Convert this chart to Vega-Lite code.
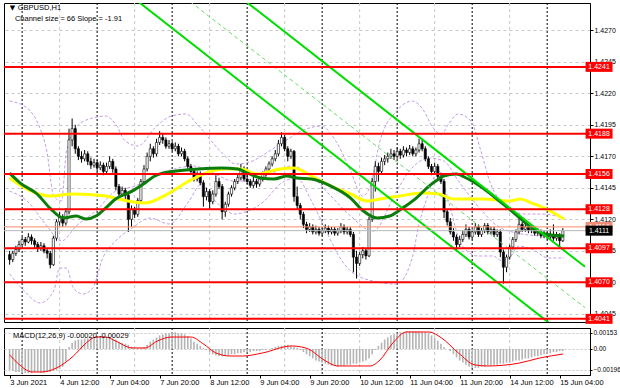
{
"$schema": "https://vega.github.io/schema/vega-lite/v6.json",
"background": "white",
"padding": {"left": 2, "top": 2, "right": 0, "bottom": 0},
"spacing": 2,
"config": {"font": "Liberation Sans", "view": {"stroke": "#000000", "strokeWidth": 1}, "axis": {"labelFont": "Liberation Sans", "labelFontSize": 7, "labelColor": "#000000", "domainColor": "#000000", "tickColor": "#000000", "labelOverlap": false, "labelFlush": false, "labelBound": false}},
"datasets": {
"bars": [
{"i":0,"o":1.4092,"h":1.4095,"l":1.4084,"c":1.4088,"m":-0.0020},
{"i":1,"o":1.4088,"h":1.4095,"l":1.4086,"c":1.4093,"m":-0.0021},
{"i":2,"o":1.4093,"h":1.4099,"l":1.4091,"c":1.4096,"m":-0.0022},
{"i":3,"o":1.4096,"h":1.4103,"l":1.4094,"c":1.4100,"m":-0.0022},
{"i":4,"o":1.4100,"h":1.4106,"l":1.4098,"c":1.4104,"m":-0.0023},
{"i":5,"o":1.4104,"h":1.4106,"l":1.4099,"c":1.4102,"m":-0.0023},
{"i":6,"o":1.4102,"h":1.4109,"l":1.4101,"c":1.4106,"m":-0.0023},
{"i":7,"o":1.4106,"h":1.4108,"l":1.4100,"c":1.4103,"m":-0.0023},
{"i":8,"o":1.4103,"h":1.4105,"l":1.4097,"c":1.4100,"m":-0.0022},
{"i":9,"o":1.4100,"h":1.4102,"l":1.4094,"c":1.4097,"m":-0.0022},
{"i":10,"o":1.4097,"h":1.4102,"l":1.4095,"c":1.4099,"m":-0.0023},
{"i":11,"o":1.4099,"h":1.4101,"l":1.4093,"c":1.4095,"m":-0.0023},
{"i":12,"o":1.4095,"h":1.4097,"l":1.4089,"c":1.4093,"m":-0.0022},
{"i":13,"o":1.4093,"h":1.4095,"l":1.4081,"c":1.4084,"m":-0.0022},
{"i":14,"o":1.4084,"h":1.4107,"l":1.4083,"c":1.4105,"m":-0.0021},
{"i":15,"o":1.4105,"h":1.4120,"l":1.4103,"c":1.4118,"m":-0.0020},
{"i":16,"o":1.4118,"h":1.4126,"l":1.4115,"c":1.4122,"m":-0.0019},
{"i":17,"o":1.4122,"h":1.4124,"l":1.4114,"c":1.4117,"m":-0.0017},
{"i":18,"o":1.4117,"h":1.4129,"l":1.4115,"c":1.4126,"m":-0.0012},
{"i":19,"o":1.4126,"h":1.4192,"l":1.4124,"c":1.4183,"m":0.0002},
{"i":20,"o":1.4183,"h":1.4200,"l":1.4178,"c":1.4192,"m":0.0006},
{"i":21,"o":1.4192,"h":1.4195,"l":1.4172,"c":1.4176,"m":0.0008},
{"i":22,"o":1.4176,"h":1.4178,"l":1.4167,"c":1.4170,"m":0.0009},
{"i":23,"o":1.4170,"h":1.4174,"l":1.4165,"c":1.4168,"m":0.0009},
{"i":24,"o":1.4168,"h":1.4175,"l":1.4166,"c":1.4172,"m":0.0010},
{"i":25,"o":1.4172,"h":1.4174,"l":1.4163,"c":1.4166,"m":0.0010},
{"i":26,"o":1.4166,"h":1.4169,"l":1.4160,"c":1.4163,"m":0.0011},
{"i":27,"o":1.4163,"h":1.4168,"l":1.4161,"c":1.4165,"m":0.0011},
{"i":28,"o":1.4165,"h":1.4167,"l":1.4158,"c":1.4161,"m":0.0012},
{"i":29,"o":1.4161,"h":1.4166,"l":1.4159,"c":1.4163,"m":0.0012},
{"i":30,"o":1.4163,"h":1.4165,"l":1.4155,"c":1.4158,"m":0.0012},
{"i":31,"o":1.4158,"h":1.4165,"l":1.4156,"c":1.4162,"m":0.0011},
{"i":32,"o":1.4162,"h":1.4170,"l":1.4160,"c":1.4166,"m":0.0011},
{"i":33,"o":1.4166,"h":1.4168,"l":1.4157,"c":1.4160,"m":0.0010},
{"i":34,"o":1.4160,"h":1.4162,"l":1.4143,"c":1.4146,"m":0.0009},
{"i":35,"o":1.4146,"h":1.4148,"l":1.4138,"c":1.4140,"m":0.0007},
{"i":36,"o":1.4140,"h":1.4146,"l":1.4138,"c":1.4143,"m":0.0006},
{"i":37,"o":1.4143,"h":1.4145,"l":1.4136,"c":1.4139,"m":0.0005},
{"i":38,"o":1.4139,"h":1.4141,"l":1.4110,"c":1.4120,"m":0.0004},
{"i":39,"o":1.4120,"h":1.4131,"l":1.4114,"c":1.4128,"m":0.0002},
{"i":40,"o":1.4128,"h":1.4130,"l":1.4121,"c":1.4124,"m":0.0001},
{"i":41,"o":1.4124,"h":1.4137,"l":1.4122,"c":1.4135,"m":0.0001},
{"i":42,"o":1.4135,"h":1.4152,"l":1.4133,"c":1.4150,"m":0.0001},
{"i":43,"o":1.4150,"h":1.4163,"l":1.4148,"c":1.4160,"m":0.0002},
{"i":44,"o":1.4160,"h":1.4173,"l":1.4158,"c":1.4170,"m":0.0004},
{"i":45,"o":1.4170,"h":1.4180,"l":1.4166,"c":1.4176,"m":0.0007},
{"i":46,"o":1.4176,"h":1.4178,"l":1.4169,"c":1.4172,"m":0.0009},
{"i":47,"o":1.4172,"h":1.4184,"l":1.4170,"c":1.4181,"m":0.0011},
{"i":48,"o":1.4181,"h":1.4190,"l":1.4179,"c":1.4185,"m":0.0013},
{"i":49,"o":1.4185,"h":1.4188,"l":1.4180,"c":1.4183,"m":0.0014},
{"i":50,"o":1.4183,"h":1.4185,"l":1.4176,"c":1.4178,"m":0.0015},
{"i":51,"o":1.4178,"h":1.4183,"l":1.4176,"c":1.4180,"m":0.0015},
{"i":52,"o":1.4180,"h":1.4182,"l":1.4174,"c":1.4176,"m":0.0016},
{"i":53,"o":1.4176,"h":1.4181,"l":1.4174,"c":1.4178,"m":0.0016},
{"i":54,"o":1.4178,"h":1.4180,"l":1.4170,"c":1.4172,"m":0.0015},
{"i":55,"o":1.4172,"h":1.4177,"l":1.4170,"c":1.4174,"m":0.0015},
{"i":56,"o":1.4174,"h":1.4176,"l":1.4166,"c":1.4168,"m":0.0014},
{"i":57,"o":1.4168,"h":1.4170,"l":1.4160,"c":1.4162,"m":0.0012},
{"i":58,"o":1.4162,"h":1.4164,"l":1.4156,"c":1.4158,"m":0.0010},
{"i":59,"o":1.4158,"h":1.4160,"l":1.4150,"c":1.4152,"m":0.0007},
{"i":60,"o":1.4152,"h":1.4158,"l":1.4150,"c":1.4156,"m":0.0005},
{"i":61,"o":1.4156,"h":1.4158,"l":1.4147,"c":1.4149,"m":0.0003},
{"i":62,"o":1.4149,"h":1.4151,"l":1.4130,"c":1.4138,"m":0.0001},
{"i":63,"o":1.4138,"h":1.4145,"l":1.4135,"c":1.4142,"m":-0.0001},
{"i":64,"o":1.4142,"h":1.4144,"l":1.4128,"c":1.4134,"m":-0.0003},
{"i":65,"o":1.4134,"h":1.4143,"l":1.4132,"c":1.4140,"m":-0.0005},
{"i":66,"o":1.4140,"h":1.4155,"l":1.4138,"c":1.4150,"m":-0.0006},
{"i":67,"o":1.4150,"h":1.4153,"l":1.4144,"c":1.4146,"m":-0.0007},
{"i":68,"o":1.4146,"h":1.4148,"l":1.4120,"c":1.4126,"m":-0.0007},
{"i":69,"o":1.4126,"h":1.4134,"l":1.4122,"c":1.4132,"m":-0.0006},
{"i":70,"o":1.4132,"h":1.4142,"l":1.4130,"c":1.4140,"m":-0.0006},
{"i":71,"o":1.4140,"h":1.4147,"l":1.4138,"c":1.4145,"m":-0.0005},
{"i":72,"o":1.4145,"h":1.4152,"l":1.4143,"c":1.4150,"m":-0.0005},
{"i":73,"o":1.4150,"h":1.4156,"l":1.4148,"c":1.4153,"m":-0.0004},
{"i":74,"o":1.4153,"h":1.4164,"l":1.4151,"c":1.4160,"m":-0.0004},
{"i":75,"o":1.4160,"h":1.4162,"l":1.4150,"c":1.4152,"m":-0.0003},
{"i":76,"o":1.4152,"h":1.4155,"l":1.4148,"c":1.4150,"m":-0.0003},
{"i":77,"o":1.4150,"h":1.4152,"l":1.4145,"c":1.4147,"m":-0.0003},
{"i":78,"o":1.4147,"h":1.4156,"l":1.4145,"c":1.4150,"m":-0.0002},
{"i":79,"o":1.4150,"h":1.4152,"l":1.4145,"c":1.4148,"m":-0.0002},
{"i":80,"o":1.4148,"h":1.4154,"l":1.4146,"c":1.4152,"m":-0.0002},
{"i":81,"o":1.4152,"h":1.4158,"l":1.4150,"c":1.4156,"m":-0.0001},
{"i":82,"o":1.4156,"h":1.4162,"l":1.4154,"c":1.4160,"m":-0.0001},
{"i":83,"o":1.4160,"h":1.4166,"l":1.4158,"c":1.4164,"m":0.0000},
{"i":84,"o":1.4164,"h":1.4170,"l":1.4162,"c":1.4168,"m":0.0001},
{"i":85,"o":1.4168,"h":1.4175,"l":1.4166,"c":1.4172,"m":0.0002},
{"i":86,"o":1.4172,"h":1.4183,"l":1.4170,"c":1.4180,"m":0.0003},
{"i":87,"o":1.4180,"h":1.4189,"l":1.4178,"c":1.4185,"m":0.0003},
{"i":88,"o":1.4185,"h":1.4187,"l":1.4174,"c":1.4176,"m":0.0004},
{"i":89,"o":1.4176,"h":1.4178,"l":1.4166,"c":1.4170,"m":0.0004},
{"i":90,"o":1.4170,"h":1.4176,"l":1.4168,"c":1.4174,"m":0.0003},
{"i":91,"o":1.4174,"h":1.4175,"l":1.4134,"c":1.4138,"m":0.0002},
{"i":92,"o":1.4138,"h":1.4146,"l":1.4128,"c":1.4131,"m":0.0001},
{"i":93,"o":1.4131,"h":1.4133,"l":1.4120,"c":1.4124,"m":-0.0001},
{"i":94,"o":1.4124,"h":1.4126,"l":1.4113,"c":1.4116,"m":-0.0003},
{"i":95,"o":1.4116,"h":1.4118,"l":1.4109,"c":1.4112,"m":-0.0005},
{"i":96,"o":1.4112,"h":1.4117,"l":1.4110,"c":1.4114,"m":-0.0007},
{"i":97,"o":1.4114,"h":1.4116,"l":1.4108,"c":1.4110,"m":-0.0009},
{"i":98,"o":1.4110,"h":1.4115,"l":1.4108,"c":1.4112,"m":-0.0011},
{"i":99,"o":1.4112,"h":1.4114,"l":1.4107,"c":1.4109,"m":-0.0012},
{"i":100,"o":1.4109,"h":1.4113,"l":1.4107,"c":1.4111,"m":-0.0013},
{"i":101,"o":1.4111,"h":1.4116,"l":1.4109,"c":1.4113,"m":-0.0014},
{"i":102,"o":1.4113,"h":1.4115,"l":1.4108,"c":1.4110,"m":-0.0015},
{"i":103,"o":1.4110,"h":1.4114,"l":1.4108,"c":1.4112,"m":-0.0016},
{"i":104,"o":1.4112,"h":1.4114,"l":1.4107,"c":1.4109,"m":-0.0016},
{"i":105,"o":1.4109,"h":1.4113,"l":1.4107,"c":1.4111,"m":-0.0017},
{"i":106,"o":1.4111,"h":1.4117,"l":1.4109,"c":1.4114,"m":-0.0016},
{"i":107,"o":1.4114,"h":1.4116,"l":1.4108,"c":1.4110,"m":-0.0016},
{"i":108,"o":1.4110,"h":1.4114,"l":1.4108,"c":1.4112,"m":-0.0015},
{"i":109,"o":1.4112,"h":1.4114,"l":1.4106,"c":1.4108,"m":-0.0015},
{"i":110,"o":1.4108,"h":1.4110,"l":1.4078,"c":1.4090,"m":-0.0014},
{"i":111,"o":1.4090,"h":1.4095,"l":1.4073,"c":1.4085,"m":-0.0014},
{"i":112,"o":1.4085,"h":1.4094,"l":1.4083,"c":1.4092,"m":-0.0013},
{"i":113,"o":1.4092,"h":1.4098,"l":1.4089,"c":1.4095,"m":-0.0012},
{"i":114,"o":1.4095,"h":1.4097,"l":1.4088,"c":1.4091,"m":-0.0011},
{"i":115,"o":1.4091,"h":1.4122,"l":1.4090,"c":1.4120,"m":-0.0009},
{"i":116,"o":1.4120,"h":1.4153,"l":1.4118,"c":1.4150,"m":-0.0005},
{"i":117,"o":1.4150,"h":1.4166,"l":1.4142,"c":1.4162,"m":-0.0001},
{"i":118,"o":1.4162,"h":1.4165,"l":1.4150,"c":1.4158,"m":0.0003},
{"i":119,"o":1.4158,"h":1.4169,"l":1.4156,"c":1.4166,"m":0.0006},
{"i":120,"o":1.4166,"h":1.4171,"l":1.4163,"c":1.4168,"m":0.0009},
{"i":121,"o":1.4168,"h":1.4173,"l":1.4165,"c":1.4170,"m":0.0011},
{"i":122,"o":1.4170,"h":1.4176,"l":1.4168,"c":1.4172,"m":0.0013},
{"i":123,"o":1.4172,"h":1.4175,"l":1.4167,"c":1.4170,"m":0.0014},
{"i":124,"o":1.4170,"h":1.4177,"l":1.4168,"c":1.4174,"m":0.0015},
{"i":125,"o":1.4174,"h":1.4176,"l":1.4168,"c":1.4171,"m":0.0016},
{"i":126,"o":1.4171,"h":1.4178,"l":1.4169,"c":1.4175,"m":0.0016},
{"i":127,"o":1.4175,"h":1.4177,"l":1.4170,"c":1.4173,"m":0.0017},
{"i":128,"o":1.4173,"h":1.4179,"l":1.4171,"c":1.4176,"m":0.0017},
{"i":129,"o":1.4176,"h":1.4178,"l":1.4170,"c":1.4172,"m":0.0017},
{"i":130,"o":1.4172,"h":1.4177,"l":1.4170,"c":1.4175,"m":0.0017},
{"i":131,"o":1.4175,"h":1.4184,"l":1.4173,"c":1.4180,"m":0.0017},
{"i":132,"o":1.4180,"h":1.4183,"l":1.4174,"c":1.4176,"m":0.0016},
{"i":133,"o":1.4176,"h":1.4178,"l":1.4166,"c":1.4168,"m":0.0016},
{"i":134,"o":1.4168,"h":1.4170,"l":1.4160,"c":1.4162,"m":0.0015},
{"i":135,"o":1.4162,"h":1.4164,"l":1.4155,"c":1.4158,"m":0.0013},
{"i":136,"o":1.4158,"h":1.4165,"l":1.4156,"c":1.4162,"m":0.0011},
{"i":137,"o":1.4162,"h":1.4164,"l":1.4151,"c":1.4154,"m":0.0008},
{"i":138,"o":1.4154,"h":1.4157,"l":1.4148,"c":1.4150,"m":0.0005},
{"i":139,"o":1.4150,"h":1.4152,"l":1.4121,"c":1.4126,"m":0.0002},
{"i":140,"o":1.4126,"h":1.4128,"l":1.4115,"c":1.4118,"m":0.0000},
{"i":141,"o":1.4118,"h":1.4121,"l":1.4108,"c":1.4110,"m":-0.0002},
{"i":142,"o":1.4110,"h":1.4113,"l":1.4103,"c":1.4106,"m":-0.0005},
{"i":143,"o":1.4106,"h":1.4108,"l":1.4095,"c":1.4100,"m":-0.0008},
{"i":144,"o":1.4100,"h":1.4107,"l":1.4098,"c":1.4104,"m":-0.0011},
{"i":145,"o":1.4104,"h":1.4111,"l":1.4102,"c":1.4108,"m":-0.0013},
{"i":146,"o":1.4108,"h":1.4116,"l":1.4106,"c":1.4112,"m":-0.0015},
{"i":147,"o":1.4112,"h":1.4114,"l":1.4104,"c":1.4106,"m":-0.0017},
{"i":148,"o":1.4106,"h":1.4112,"l":1.4104,"c":1.4110,"m":-0.0018},
{"i":149,"o":1.4110,"h":1.4117,"l":1.4108,"c":1.4114,"m":-0.0018},
{"i":150,"o":1.4114,"h":1.4116,"l":1.4106,"c":1.4108,"m":-0.0018},
{"i":151,"o":1.4108,"h":1.4113,"l":1.4106,"c":1.4111,"m":-0.0017},
{"i":152,"o":1.4111,"h":1.4117,"l":1.4109,"c":1.4115,"m":-0.0017},
{"i":153,"o":1.4115,"h":1.4117,"l":1.4108,"c":1.4110,"m":-0.0016},
{"i":154,"o":1.4110,"h":1.4114,"l":1.4108,"c":1.4112,"m":-0.0016},
{"i":155,"o":1.4112,"h":1.4114,"l":1.4106,"c":1.4108,"m":-0.0015},
{"i":156,"o":1.4108,"h":1.4112,"l":1.4106,"c":1.4110,"m":-0.0015},
{"i":157,"o":1.4110,"h":1.4112,"l":1.4090,"c":1.4094,"m":-0.0014},
{"i":158,"o":1.4094,"h":1.4096,"l":1.4069,"c":1.4082,"m":-0.0014},
{"i":159,"o":1.4082,"h":1.4092,"l":1.4078,"c":1.4090,"m":-0.0013},
{"i":160,"o":1.4090,"h":1.4100,"l":1.4088,"c":1.4098,"m":-0.0013},
{"i":161,"o":1.4098,"h":1.4106,"l":1.4096,"c":1.4104,"m":-0.0012},
{"i":162,"o":1.4104,"h":1.4112,"l":1.4102,"c":1.4110,"m":-0.0011},
{"i":163,"o":1.4110,"h":1.4122,"l":1.4108,"c":1.4116,"m":-0.0011},
{"i":164,"o":1.4116,"h":1.4118,"l":1.4110,"c":1.4112,"m":-0.0010},
{"i":165,"o":1.4112,"h":1.4117,"l":1.4110,"c":1.4114,"m":-0.0009},
{"i":166,"o":1.4114,"h":1.4116,"l":1.4109,"c":1.4111,"m":-0.0009},
{"i":167,"o":1.4111,"h":1.4115,"l":1.4109,"c":1.4112,"m":-0.0008},
{"i":168,"o":1.4112,"h":1.4114,"l":1.4107,"c":1.4109,"m":-0.0007},
{"i":169,"o":1.4109,"h":1.4113,"l":1.4107,"c":1.4110,"m":-0.0007},
{"i":170,"o":1.4110,"h":1.4112,"l":1.4105,"c":1.4107,"m":-0.0006},
{"i":171,"o":1.4107,"h":1.4111,"l":1.4105,"c":1.4108,"m":-0.0005},
{"i":172,"o":1.4108,"h":1.4110,"l":1.4104,"c":1.4106,"m":-0.0005},
{"i":173,"o":1.4106,"h":1.4112,"l":1.4104,"c":1.4108,"m":-0.0004},
{"i":174,"o":1.4108,"h":1.4116,"l":1.4103,"c":1.4105,"m":-0.0003},
{"i":175,"o":1.4105,"h":1.4110,"l":1.4103,"c":1.4107,"m":-0.0003},
{"i":176,"o":1.4107,"h":1.4109,"l":1.4097,"c":1.4103,"m":-0.0002},
{"i":177,"o":1.4103,"h":1.4113,"l":1.4102,"c":1.4111,"m":-0.0002}
],
"sig": [
{"i":0,"v":-0.00057},{"i":2.5,"v":-0.00133},{"i":7.2,"v":-0.00219},{"i":10.3,"v":-0.00219},{"i":15,"v":-0.00181},{"i":20.4,"v":-0.00067},{"i":24.5,"v":0.00057},{"i":27.6,"v":0.00114},{"i":30.7,"v":0.00114},{"i":33.9,"v":0.00076},{"i":39.2,"v":0.0001},{"i":43.3,"v":0.0001},{"i":47.3,"v":0.00076},{"i":51.7,"v":0.00114},{"i":58,"v":0.00114},{"i":62,"v":0.00048},{"i":66,"v":-0.00038},{"i":70.5,"v":-0.00067},{"i":74.6,"v":-0.00067},{"i":80.9,"v":-0.00038},{"i":90.3,"v":0.00029},{"i":93.4,"v":0.00019},{"i":95.6,"v":0},{"i":100.6,"v":-0.00105},{"i":105,"v":-0.00162},{"i":111.3,"v":-0.00162},{"i":115.4,"v":-0.00162},{"i":118.5,"v":-0.00105},{"i":122.6,"v":0.00057},{"i":127,"v":0.00162},{"i":134.2,"v":0.00162},{"i":138.2,"v":0.00105},{"i":143.6,"v":-0.00038},{"i":148.9,"v":-0.00152},{"i":153,"v":-0.00162},{"i":163.3,"v":-0.00133},{"i":169.6,"v":-0.00086},{"i":177.1,"v":-0.00048}
],
"bands": [
{"b":"u","i":0,"p":1.42139},{"b":"u","i":5.6,"p":1.42083},{"b":"u","i":9.7,"p":1.41924},{"b":"u","i":11.9,"p":1.41742},{"b":"u","i":14.1,"p":1.41385},{"b":"u","i":16.6,"p":1.41345},{"b":"u","i":18.2,"p":1.41742},{"b":"u","i":22.3,"p":1.41956},{"b":"u","i":26.6,"p":1.42004},{"b":"u","i":30.7,"p":1.4202},{"b":"u","i":33.9,"p":1.41956},{"b":"u","i":37,"p":1.41821},{"b":"u","i":41.1,"p":1.41782},{"b":"u","i":46.4,"p":1.41924},{"b":"u","i":51.7,"p":1.4202},{"b":"u","i":56.4,"p":1.42036},{"b":"u","i":60.5,"p":1.4194},{"b":"u","i":67.4,"p":1.41742},{"b":"u","i":72.4,"p":1.41639},{"b":"u","i":77.7,"p":1.41663},{"b":"u","i":83.1,"p":1.41742},{"b":"u","i":88.1,"p":1.41821},{"b":"u","i":93.4,"p":1.41901},{"b":"u","i":99.7,"p":1.4194},{"b":"u","i":104.4,"p":1.41821},{"b":"u","i":109.1,"p":1.41583},{"b":"u","i":112.9,"p":1.41385},{"b":"u","i":115.4,"p":1.41464},{"b":"u","i":118.5,"p":1.41821},{"b":"u","i":123.8,"p":1.42059},{"b":"u","i":128.8,"p":1.42139},{"b":"u","i":132.6,"p":1.42059},{"b":"u","i":135.1,"p":1.4194},{"b":"u","i":138.2,"p":1.41877},{"b":"u","i":140.4,"p":1.41956},{"b":"u","i":143.6,"p":1.42036},{"b":"u","i":147.6,"p":1.4198},{"b":"u","i":150.8,"p":1.41742},{"b":"u","i":153.9,"p":1.4148},{"b":"u","i":157.1,"p":1.41345},{"b":"u","i":160.8,"p":1.41266},{"b":"u","i":164.9,"p":1.41242},{"b":"u","i":170.2,"p":1.41242},{"b":"u","i":177.4,"p":1.4121},
{"b":"m","i":0,"p":1.41424},{"b":"m","i":5.6,"p":1.41345},{"b":"m","i":11.9,"p":1.41147},{"b":"m","i":16.6,"p":1.41028},{"b":"m","i":21.3,"p":1.41147},{"b":"m","i":27.6,"p":1.41266},{"b":"m","i":33.9,"p":1.41424},{"b":"m","i":40.1,"p":1.41464},{"b":"m","i":46.4,"p":1.41544},{"b":"m","i":52.7,"p":1.41599},{"b":"m","i":58.9,"p":1.41623},{"b":"m","i":65.2,"p":1.41567},{"b":"m","i":71.5,"p":1.41504},{"b":"m","i":77.7,"p":1.41504},{"b":"m","i":84,"p":1.41567},{"b":"m","i":90.3,"p":1.41623},{"b":"m","i":96.6,"p":1.41544},{"b":"m","i":102.8,"p":1.41385},{"b":"m","i":109.1,"p":1.41226},{"b":"m","i":116.3,"p":1.41107},{"b":"m","i":123.8,"p":1.41424},{"b":"m","i":127.9,"p":1.41583},{"b":"m","i":134.2,"p":1.41686},{"b":"m","i":138.9,"p":1.41663},{"b":"m","i":143.6,"p":1.41504},{"b":"m","i":149.8,"p":1.41305},{"b":"m","i":156.1,"p":1.41147},{"b":"m","i":162.4,"p":1.41091},{"b":"m","i":170.2,"p":1.41067},{"b":"m","i":177.4,"p":1.41059},
{"b":"l","i":0,"p":1.40766},{"b":"l","i":4.7,"p":1.40631},{"b":"l","i":9.7,"p":1.40536},{"b":"l","i":14.1,"p":1.40631},{"b":"l","i":16,"p":1.40813},{"b":"l","i":18.2,"p":1.40813},{"b":"l","i":20.4,"p":1.40655},{"b":"l","i":23.5,"p":1.40607},{"b":"l","i":26.6,"p":1.40655},{"b":"l","i":29.8,"p":1.40893},{"b":"l","i":33.9,"p":1.41028},{"b":"l","i":39.2,"p":1.41131},{"b":"l","i":44.8,"p":1.4121},{"b":"l","i":51.1,"p":1.41163},{"b":"l","i":57.4,"p":1.41345},{"b":"l","i":61.4,"p":1.4148},{"b":"l","i":65.8,"p":1.41345},{"b":"l","i":72.1,"p":1.41242},{"b":"l","i":76.2,"p":1.41266},{"b":"l","i":81.5,"p":1.41345},{"b":"l","i":86.5,"p":1.4148},{"b":"l","i":91.8,"p":1.41528},{"b":"l","i":96.6,"p":1.41345},{"b":"l","i":101.3,"p":1.41107},{"b":"l","i":105,"p":1.40924},{"b":"l","i":109.1,"p":1.40789},{"b":"l","i":116.3,"p":1.4071},{"b":"l","i":123.8,"p":1.40686},{"b":"l","i":128.8,"p":1.40893},{"b":"l","i":131,"p":1.41163},{"b":"l","i":133.2,"p":1.41345},{"b":"l","i":137.3,"p":1.41583},{"b":"l","i":140.4,"p":1.41345},{"b":"l","i":144.5,"p":1.41004},{"b":"l","i":149.8,"p":1.40909},{"b":"l","i":154.5,"p":1.40909},{"b":"l","i":157.7,"p":1.40869},{"b":"l","i":159.9,"p":1.40893},{"b":"l","i":163,"p":1.40988},{"b":"l","i":167.1,"p":1.40964},{"b":"l","i":172.4,"p":1.40893},{"b":"l","i":177.4,"p":1.40893}
],
"ma": [
{"s":"y","i":0,"p":1.41528},{"s":"y","i":5.6,"p":1.4144},{"s":"y","i":12.9,"p":1.41385},{"s":"y","i":20.4,"p":1.41401},{"s":"y","i":30.7,"p":1.41385},{"s":"y","i":34.8,"p":1.41361},{"s":"y","i":43.3,"p":1.41329},{"s":"y","i":51.1,"p":1.41409},{"s":"y","i":57.4,"p":1.41504},{"s":"y","i":62.7,"p":1.41567},{"s":"y","i":69,"p":1.41599},{"s":"y","i":74,"p":1.41599},{"s":"y","i":79.3,"p":1.41559},{"s":"y","i":86.5,"p":1.41599},{"s":"y","i":90.9,"p":1.41607},{"s":"y","i":96.6,"p":1.41544},{"s":"y","i":102.8,"p":1.41464},{"s":"y","i":109.1,"p":1.41401},{"s":"y","i":114.4,"p":1.41345},{"s":"y","i":118.5,"p":1.41361},{"s":"y","i":124.8,"p":1.41385},{"s":"y","i":132,"p":1.41409},{"s":"y","i":137.3,"p":1.41401},{"s":"y","i":142,"p":1.41361},{"s":"y","i":151.4,"p":1.41361},{"s":"y","i":159.9,"p":1.41345},{"s":"y","i":163.3,"p":1.41361},{"s":"y","i":167.1,"p":1.41329},{"s":"y","i":171.2,"p":1.41289},{"s":"y","i":177.4,"p":1.41202},
{"s":"g","i":0,"p":1.41567},{"s":"g","i":3.4,"p":1.41488},{"s":"g","i":8.8,"p":1.41401},{"s":"g","i":12.9,"p":1.41289},{"s":"g","i":17.2,"p":1.4121},{"s":"g","i":21.3,"p":1.41226},{"s":"g","i":24.5,"p":1.41202},{"s":"g","i":27.6,"p":1.41226},{"s":"g","i":30.7,"p":1.41289},{"s":"g","i":33.9,"p":1.41361},{"s":"g","i":39.2,"p":1.41424},{"s":"g","i":43.3,"p":1.41488},{"s":"g","i":46.4,"p":1.41544},{"s":"g","i":48.9,"p":1.41567},{"s":"g","i":53.3,"p":1.41583},{"s":"g","i":60.5,"p":1.41599},{"s":"g","i":67.7,"p":1.41607},{"s":"g","i":73,"p":1.41599},{"s":"g","i":76.2,"p":1.41567},{"s":"g","i":80.3,"p":1.41528},{"s":"g","i":84.6,"p":1.4152},{"s":"g","i":88.7,"p":1.41544},{"s":"g","i":91.8,"p":1.41528},{"s":"g","i":96.6,"p":1.4152},{"s":"g","i":102.8,"p":1.41464},{"s":"g","i":109.1,"p":1.41369},{"s":"g","i":113.2,"p":1.41266},{"s":"g","i":117.6,"p":1.4121},{"s":"g","i":121.6,"p":1.41226},{"s":"g","i":125.7,"p":1.41289},{"s":"g","i":130.1,"p":1.41369},{"s":"g","i":134.2,"p":1.41464},{"s":"g","i":137.3,"p":1.4152},{"s":"g","i":138.9,"p":1.41544},{"s":"g","i":142.9,"p":1.41559},{"s":"g","i":146.1,"p":1.41528},{"s":"g","i":151.4,"p":1.41448},{"s":"g","i":156.7,"p":1.41345},{"s":"g","i":161.8,"p":1.41242},{"s":"g","i":167.1,"p":1.41131},{"s":"g","i":171.2,"p":1.41083},{"s":"g","i":177.4,"p":1.41067}
],
"chan": [
{"ln":"A","i":40,"p":1.4295},{"ln":"A","i":176,"p":1.40312},
{"ln":"B","i":74,"p":1.4296},{"ln":"B","i":184.1,"p":1.40823},
{"ln":"M","i":56,"p":1.42961},{"ln":"M","i":184.1,"p":1.40499}
],
"tags": [
{"p":1.4241,"t":"1.4241","k":"lvl"},{"p":1.4188,"t":"1.4188","k":"lvl"},{"p":1.4156,"t":"1.4156","k":"lvl"},{"p":1.4128,"t":"1.4128","k":"lvl"},{"p":1.4097,"t":"1.4097","k":"lvl"},{"p":1.4070,"t":"1.4070","k":"lvl"},{"p":1.4041,"t":"1.4041","k":"lvl"},
{"p":1.4114,"t":"1.4114","k":"ask"},{"p":1.4111,"t":"1.4111","k":"bid"}
],
"seps": [
{"i":4,"k":"d"},{"i":16,"k":"n"},{"i":28,"k":"d"},{"i":40,"k":"n"},{"i":52,"k":"d"},{"i":64,"k":"n"},{"i":76,"k":"d"},{"i":88,"k":"n"},{"i":100,"k":"d"},{"i":112,"k":"n"},{"i":124,"k":"d"},{"i":136,"k":"n"},{"i":148,"k":"d"},{"i":160,"k":"n"},{"i":172,"k":"d"}
]
},
"vconcat": [
{
"width": 586, "height": 319,
"resolve": {"axis": {"y": "independent"}},
"layer": [
{"data": {"name": "seps"}, "mark": {"type": "rule", "strokeWidth": 1},
 "encoding": {"x": {"field": "i", "type": "quantitative", "scale": {"domain": [-0.2, 184.1], "nice": false, "zero": false}, "axis": null},
  "stroke": {"condition": {"test": "datum.k == 'd'", "value": "#000000"}, "value": "#c8c8c8"},
  "strokeDash": {"condition": {"test": "datum.k == 'd'", "value": [2, 2]}, "value": [3, 3]}}},
{"data": {"name": "bands"}, "mark": {"type": "line", "stroke": "#c49be8", "strokeWidth": 1, "strokeDash": [3, 2], "interpolate": "monotone"},
 "encoding": {"x": {"field": "i", "type": "quantitative", "scale": {"domain": [-0.2, 184.1], "nice": false, "zero": false}, "axis": null},
  "y": {"field": "p", "type": "quantitative", "scale": {"domain": [1.40385, 1.42917], "nice": false, "zero": false},
   "axis": {"orient": "right", "values": [1.4045, 1.407, 1.4095, 1.412, 1.4145, 1.417, 1.4195, 1.422, 1.4245, 1.427], "format": ".4f", "title": null, "grid": true, "gridColor": "#c8c8c8", "gridDash": [3, 3], "gridWidth": 1, "tickSize": 3, "labelPadding": 1, "labelFontSize": 7, "labelBaseline": "middle", "labelOverlap": false, "labelSeparation": 0}},
  "detail": {"field": "b"}}},
{"data": {"name": "bars"}, "mark": {"type": "rule", "stroke": "#000000", "strokeWidth": 1, "clip": true},
 "encoding": {"x": {"field": "i", "type": "quantitative", "scale": {"domain": [-0.2, 184.1], "nice": false, "zero": false}, "axis": null},
  "y": {"field": "l", "type": "quantitative", "scale": {"domain": [1.40385, 1.42917], "nice": false, "zero": false}, "axis": null},
  "y2": {"field": "h"}}},
{"data": {"name": "bars"}, "mark": {"type": "bar", "size": 2.2, "stroke": "#000000", "strokeWidth": 0.6, "clip": true},
 "encoding": {"x": {"field": "i", "type": "quantitative", "scale": {"domain": [-0.2, 184.1], "nice": false, "zero": false}, "axis": null},
  "y": {"field": "o", "type": "quantitative", "scale": {"domain": [1.40385, 1.42917], "nice": false, "zero": false}, "axis": null},
  "y2": {"field": "c"},
  "fill": {"condition": {"test": "datum.c >= datum.o", "value": "#ffffff"}, "value": "#000000"}}},
{"data": {"name": "ma"}, "transform": [{"filter": "datum.s == 'y'"}], "mark": {"type": "line", "stroke": "#ffff00", "strokeWidth": 3, "interpolate": "monotone"},
 "encoding": {"x": {"field": "i", "type": "quantitative", "scale": {"domain": [-0.2, 184.1], "nice": false, "zero": false}, "axis": null},
  "y": {"field": "p", "type": "quantitative", "scale": {"domain": [1.40385, 1.42917], "nice": false, "zero": false}, "axis": null}}},
{"data": {"name": "ma"}, "transform": [{"filter": "datum.s == 'g'"}], "mark": {"type": "line", "stroke": "#0a7d0a", "strokeWidth": 3, "interpolate": "monotone"},
 "encoding": {"x": {"field": "i", "type": "quantitative", "scale": {"domain": [-0.2, 184.1], "nice": false, "zero": false}, "axis": null},
  "y": {"field": "p", "type": "quantitative", "scale": {"domain": [1.40385, 1.42917], "nice": false, "zero": false}, "axis": null}}},
{"data": {"name": "chan"}, "transform": [{"filter": "datum.ln != 'M'"}], "mark": {"type": "line", "stroke": "#00dd00", "strokeWidth": 2, "clip": true},
 "encoding": {"x": {"field": "i", "type": "quantitative", "scale": {"domain": [-0.2, 184.1], "nice": false, "zero": false}, "axis": null},
  "y": {"field": "p", "type": "quantitative", "scale": {"domain": [1.40385, 1.42917], "nice": false, "zero": false}, "axis": null},
  "detail": {"field": "ln"}}},
{"data": {"name": "chan"}, "transform": [{"filter": "datum.ln == 'M'"}], "mark": {"type": "line", "stroke": "#66dd66", "strokeWidth": 1, "strokeDash": [4, 3], "clip": true},
 "encoding": {"x": {"field": "i", "type": "quantitative", "scale": {"domain": [-0.2, 184.1], "nice": false, "zero": false}, "axis": null},
  "y": {"field": "p", "type": "quantitative", "scale": {"domain": [1.40385, 1.42917], "nice": false, "zero": false}, "axis": null}}},
{"data": {"name": "tags"}, "transform": [{"filter": "datum.k == 'lvl'"}], "mark": {"type": "rule", "stroke": "#ff0000", "strokeWidth": 2},
 "encoding": {"y": {"field": "p", "type": "quantitative", "scale": {"domain": [1.40385, 1.42917], "nice": false, "zero": false}, "axis": null}}},
{"data": {"name": "tags"}, "transform": [{"filter": "datum.k != 'lvl'"}], "mark": {"type": "rule", "strokeWidth": 1},
 "encoding": {"y": {"field": "p", "type": "quantitative", "scale": {"domain": [1.40385, 1.42917], "nice": false, "zero": false}, "axis": null},
  "stroke": {"condition": {"test": "datum.k == 'ask'", "value": "#ff8c69"}, "value": "#b8b8b8"}}},
{"data": {"name": "tags"}, "transform": [{"filter": "datum.k != 'bid'"}], "mark": {"type": "point", "shape": "M-2.7,-1H2.7V1H-2.7Z", "filled": true, "size": 100, "opacity": 1, "strokeWidth": 0},
 "encoding": {"x": {"datum": 188.6, "type": "quantitative", "scale": {"domain": [-0.2, 184.1], "nice": false, "zero": false}, "axis": null},
  "y": {"field": "p", "type": "quantitative", "scale": {"domain": [1.40385, 1.42917], "nice": false, "zero": false}, "axis": null},
  "fill": {"condition": {"test": "datum.k == 'ask'", "value": "#f08c78"}, "value": "#ff0000"}}},
{"data": {"name": "tags"}, "transform": [{"filter": "datum.k != 'bid'"}], "mark": {"type": "text", "align": "center", "baseline": "middle", "fontSize": 7, "font": "Liberation Sans", "color": "#ffffff"},
 "encoding": {"x": {"datum": 188.6, "type": "quantitative", "scale": {"domain": [-0.2, 184.1], "nice": false, "zero": false}, "axis": null},
  "y": {"field": "p", "type": "quantitative", "scale": {"domain": [1.40385, 1.42917], "nice": false, "zero": false}, "axis": null},
  "text": {"field": "t"}}},
{"data": {"name": "tags"}, "transform": [{"filter": "datum.k == 'bid'"}], "mark": {"type": "point", "shape": "M-2.7,-1H2.7V1H-2.7Z", "filled": true, "size": 100, "opacity": 1, "strokeWidth": 0, "fill": "#000000"},
 "encoding": {"x": {"datum": 188.6, "type": "quantitative", "scale": {"domain": [-0.2, 184.1], "nice": false, "zero": false}, "axis": null},
  "y": {"field": "p", "type": "quantitative", "scale": {"domain": [1.40385, 1.42917], "nice": false, "zero": false}, "axis": null}}},
{"data": {"name": "tags"}, "transform": [{"filter": "datum.k == 'bid'"}], "mark": {"type": "text", "align": "center", "baseline": "middle", "fontSize": 7, "font": "Liberation Sans", "color": "#ffffff"},
 "encoding": {"x": {"datum": 188.6, "type": "quantitative", "scale": {"domain": [-0.2, 184.1], "nice": false, "zero": false}, "axis": null},
  "y": {"field": "p", "type": "quantitative", "scale": {"domain": [1.40385, 1.42917], "nice": false, "zero": false}, "axis": null},
  "text": {"field": "t"}}},
{"data": {"values": [{"t": "▼"}]}, "mark": {"type": "text", "align": "center", "baseline": "middle", "fontSize": 7, "font": "DejaVu Sans", "color": "#000000"},
 "encoding": {"x": {"datum": 0.9, "type": "quantitative", "scale": {"domain": [-0.2, 184.1], "nice": false, "zero": false}, "axis": null},
  "y": {"datum": 1.42877, "type": "quantitative", "scale": {"domain": [1.40385, 1.42917], "nice": false, "zero": false}, "axis": null},
  "text": {"field": "t"}}},
{"data": {"values": [{"t": "GBPUSD,H1"}]}, "mark": {"type": "text", "align": "left", "baseline": "middle", "fontSize": 7.5, "font": "Liberation Sans", "color": "#000000"},
 "encoding": {"x": {"datum": 2.6, "type": "quantitative", "scale": {"domain": [-0.2, 184.1], "nice": false, "zero": false}, "axis": null},
  "y": {"datum": 1.42877, "type": "quantitative", "scale": {"domain": [1.40385, 1.42917], "nice": false, "zero": false}, "axis": null},
  "text": {"field": "t"}}},
{"data": {"values": [{"t": "Channel size = 66 Slope = -1.91"}]}, "mark": {"type": "text", "align": "left", "baseline": "middle", "fontSize": 7.5, "font": "Liberation Sans", "color": "#000000"},
 "encoding": {"x": {"datum": 1.7, "type": "quantitative", "scale": {"domain": [-0.2, 184.1], "nice": false, "zero": false}, "axis": null},
  "y": {"datum": 1.4279, "type": "quantitative", "scale": {"domain": [1.40385, 1.42917], "nice": false, "zero": false}, "axis": null},
  "text": {"field": "t"}}}
]
},
{
"width": 586, "height": 47,
"resolve": {"axis": {"y": "independent", "x": "independent"}},
"layer": [
{"data": {"name": "seps"}, "mark": {"type": "rule", "strokeWidth": 1},
 "encoding": {"x": {"field": "i", "type": "quantitative", "scale": {"domain": [-0.2, 184.1], "nice": false, "zero": false}, "axis": null},
  "stroke": {"condition": {"test": "datum.k == 'd'", "value": "#000000"}, "value": "#c8c8c8"},
  "strokeDash": {"condition": {"test": "datum.k == 'd'", "value": [2, 2]}, "value": [3, 3]}}},
{"data": {"name": "bars"}, "mark": {"type": "bar", "size": 1.6, "color": "#b4b4b4"},
 "encoding": {"x": {"field": "i", "type": "quantitative", "scale": {"domain": [-0.2, 184.1], "nice": false, "zero": false},
   "axis": {"orient": "bottom", "values": [0, 16, 32, 48, 64, 80, 96, 112, 128, 144, 160, 176], "labelExpr": "['3 Jun 2021','4 Jun 12:00','7 Jun 04:00','7 Jun 20:00','8 Jun 12:00','9 Jun 04:00','9 Jun 20:00','10 Jun 12:00','11 Jun 04:00','11 Jun 20:00','14 Jun 12:00','15 Jun 04:00'][round(datum.value / 16)]", "labelAlign": "left", "labelFlush": false, "labelOverlap": false, "labelSeparation": 0, "grid": false, "tickSize": 3, "labelPadding": 0, "title": null, "labelFontSize": 7.5}},
  "y": {"field": "m", "type": "quantitative", "scale": {"domain": [-0.00248, 0.002], "nice": false, "zero": false},
   "axis": {"orient": "right", "values": [0.00153, 0, -0.00196], "labelExpr": "datum.value == 0 ? '0.00' : format(datum.value, '.5f')", "title": null, "grid": true, "gridColor": "#c8c8c8", "gridDash": [2, 2], "tickSize": 2, "labelPadding": 1, "labelFontSize": 6.5, "labelBaseline": "middle", "labelOverlap": false, "labelSeparation": 0}},
  "y2": {"datum": 0}}},
{"data": {"name": "sig"}, "mark": {"type": "line", "stroke": "#ff0000", "strokeWidth": 1, "interpolate": "monotone"},
 "encoding": {"x": {"field": "i", "type": "quantitative", "scale": {"domain": [-0.2, 184.1], "nice": false, "zero": false}, "axis": null},
  "y": {"field": "v", "type": "quantitative", "scale": {"domain": [-0.00248, 0.002], "nice": false, "zero": false}, "axis": null}}},
{"data": {"values": [{"t": "MACD(12,26,9) -0.00020 -0.00029"}]}, "mark": {"type": "text", "align": "left", "baseline": "middle", "fontSize": 7.5, "font": "Liberation Sans", "color": "#000000"},
 "encoding": {"x": {"datum": 1.1, "type": "quantitative", "scale": {"domain": [-0.2, 184.1], "nice": false, "zero": false}, "axis": null},
  "y": {"datum": 0.00121, "type": "quantitative", "scale": {"domain": [-0.00248, 0.002], "nice": false, "zero": false}, "axis": null},
  "text": {"field": "t"}}}
]
}
]
}
